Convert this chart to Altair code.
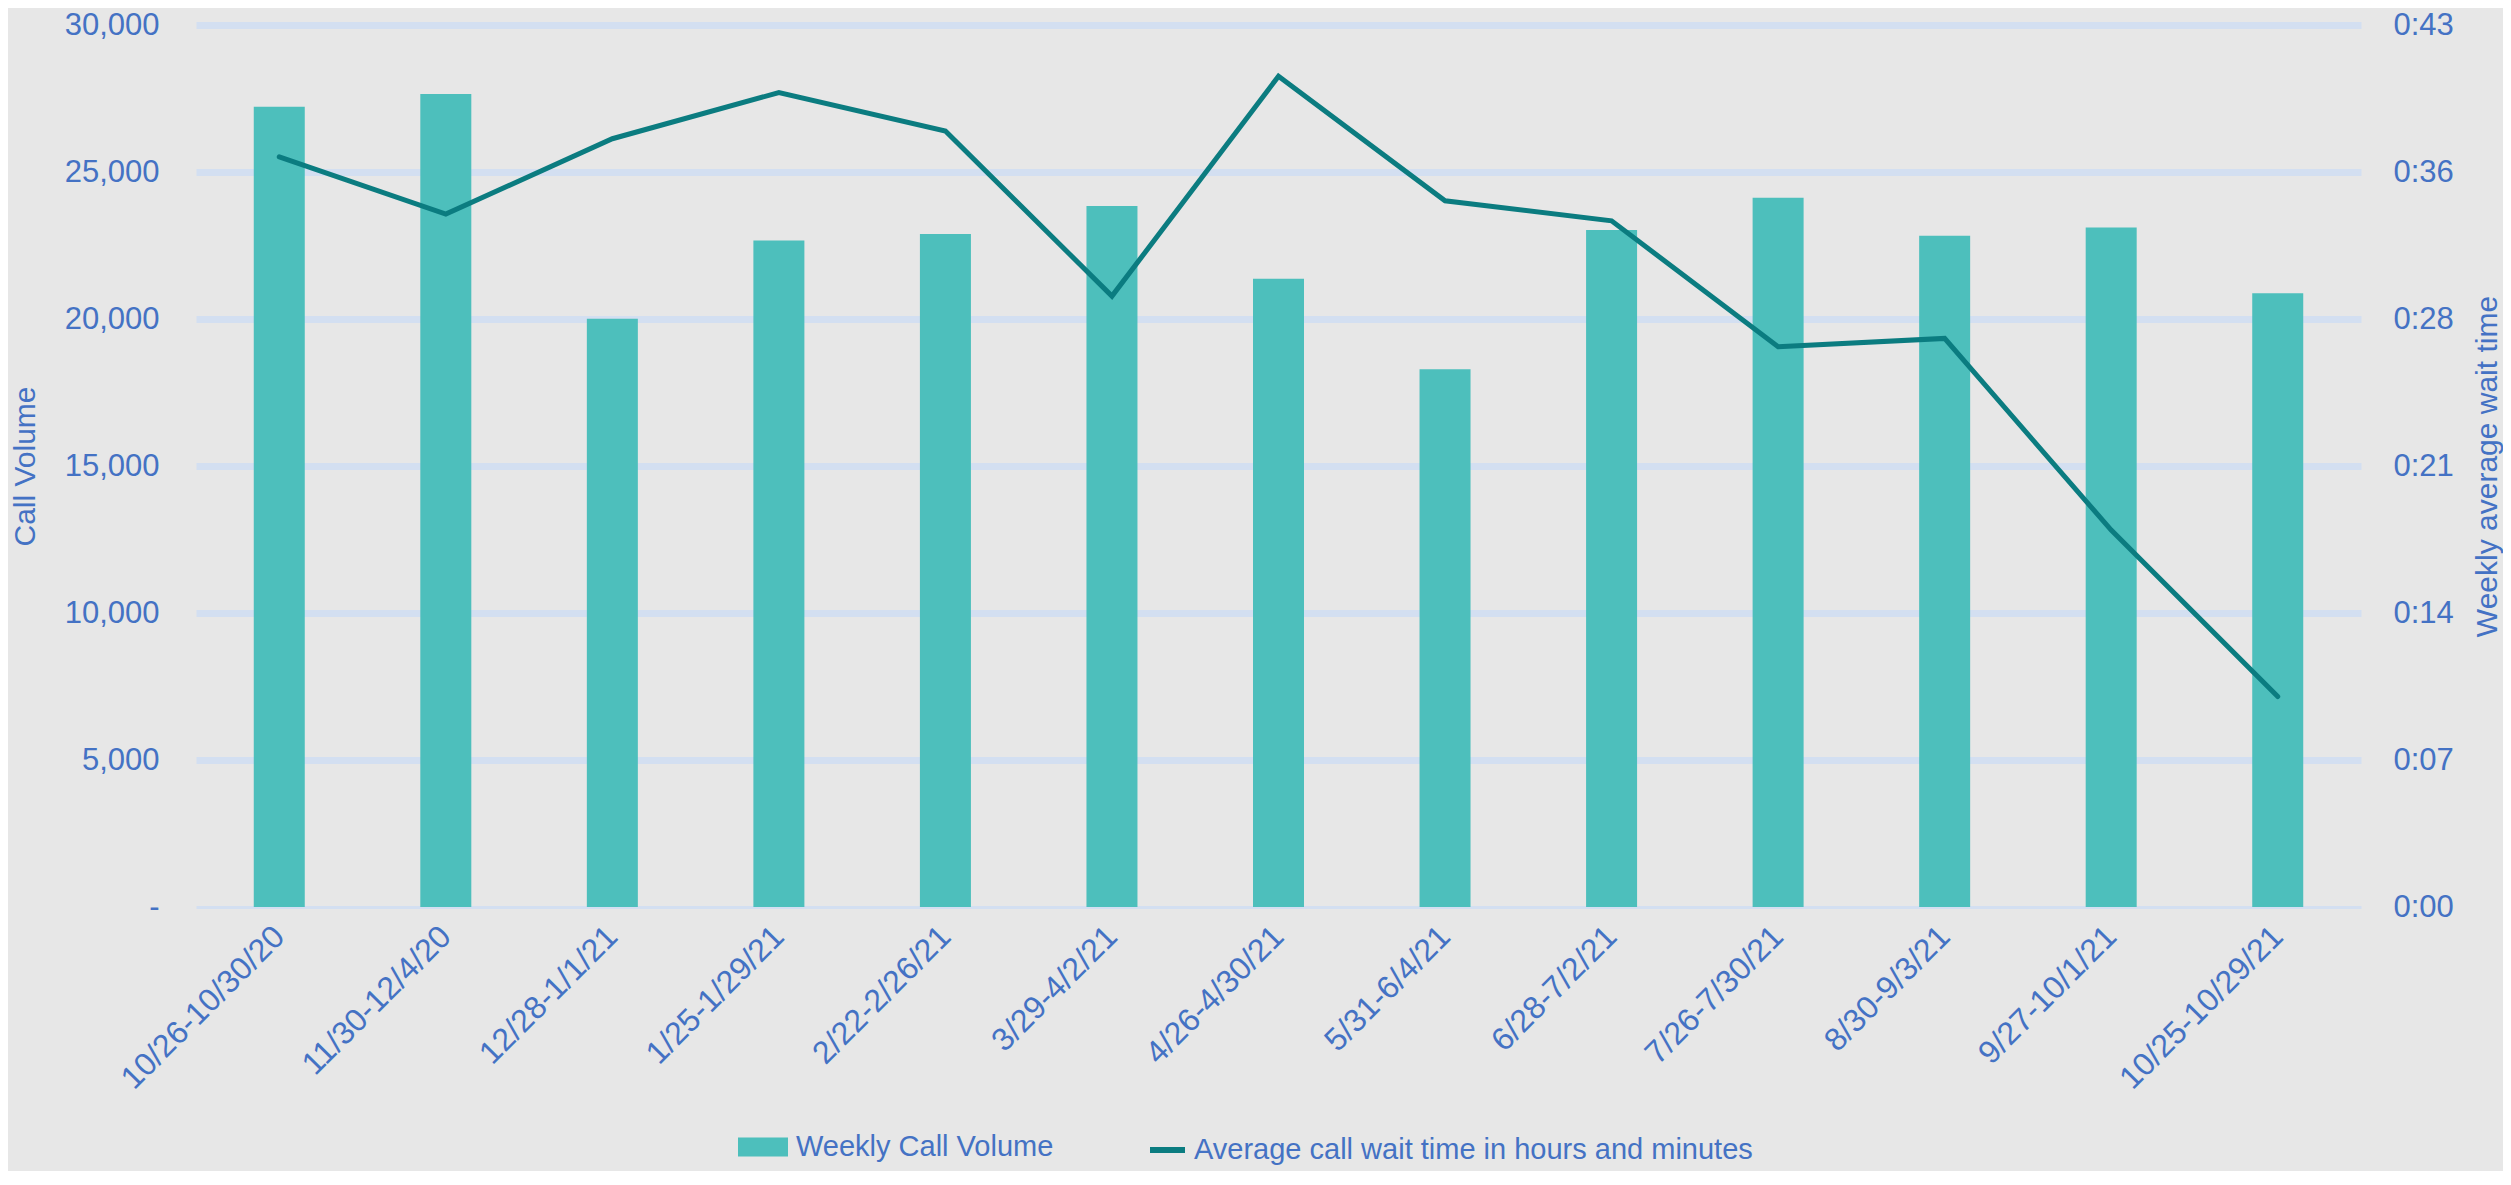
import altair as alt
import pandas as pd

# ---- data ----
weeks = ["10/26-10/30/20", "11/30-12/4/20", "12/28-1/1/21", "1/25-1/29/21",
         "2/22-2/26/21", "3/29-4/2/21", "4/26-4/30/21", "5/31-6/4/21",
         "6/28-7/2/21", "7/26-7/30/21", "8/30-9/3/21", "9/27-10/1/21",
         "10/25-10/29/21"]
call_volume = [27220, 27650, 20010, 22670, 22890, 23840, 21370, 18290,
               23030, 24120, 22830, 23110, 20880]
# average wait time, in minutes
wait_minutes = [36.74, 33.94, 37.63, 39.89, 38.01, 29.92, 40.69, 34.59,
                33.61, 27.44, 27.85, 18.46, 10.31]

left_ticks = [0, 5000, 10000, 15000, 20000, 25000, 30000]
right_ticks = [0, 7.2, 14.4, 21.6, 28.8, 36.0, 43.2]

bar_name = "Weekly Call Volume"
line_name = "Average call wait time in hours and minutes"

TEAL = "#4DBFBC"
DARK = "#0B7C80"
TEXT = "#4472C4"
GRID = "#D3DFF1"
BG = "#E7E7E7"
FONT = "Liberation Sans"

df = pd.DataFrame({
    "week": weeks,
    "calls": call_volume,
    "minutes": wait_minutes,
    "bar_series": [bar_name] * len(weeks),
    "line_series": [line_name] * len(weeks),
})

W, H = 2165, 882
TOP = 17
LEG_C = 1122  # legend row centre, relative to plot top

x = alt.X("week:N", sort=weeks, title=None,
          scale=alt.Scale(paddingInner=0, paddingOuter=0),
          axis=alt.Axis(labelAngle=315, labelAlign="right", labelBaseline="middle",
                        labelPadding=24, labelOffset=0, labelFontSize=32,
                        labelFont=FONT, labelColor=TEXT, ticks=False, tickSize=0,
                        domain=False, grid=False, labelOverlap=False, labelLimit=0))

bars = alt.Chart(df).mark_bar(size=51).encode(
    x=x,
    y=alt.Y("calls:Q",
            scale=alt.Scale(domain=[0, 30000], nice=False, zero=True),
            axis=alt.Axis(values=left_ticks,
                          labelExpr="datum.value === 0 ? '-\u00a0\u00a0' : format(datum.value, ',')",
                          labelFont=FONT, labelFontSize=31, labelColor=TEXT,
                          labelPadding=37, ticks=False, tickSize=0, domain=False,
                          grid=True, gridColor=GRID,
                          gridWidth={"condition": {"test": "datum.value === 0", "value": 3}, "value": 7},
                          title="Call Volume", titleFont=FONT, titleFontSize=30,
                          titleFontWeight="normal", titleColor=TEXT,
                          titleAngle=270, titleX=-171, titleY=H / 2,
                          titleAlign="center", titleBaseline="middle")),
    color=alt.Color("bar_series:N",
                    scale=alt.Scale(domain=[bar_name], range=[TEAL]),
                    legend=alt.Legend(title=None, orient="none", legendX=542, legendY=LEG_C - 25,
                                      symbolType="M-1,-0.38H1V0.38H-1Z", symbolSize=2500,
                                      symbolStrokeWidth=0, symbolOpacity=1,
                                      labelFont=FONT, labelFontSize=29, labelColor=TEXT,
                                      labelOffset=8, labelLimit=0)),
)

line = alt.Chart(df).mark_line(strokeWidth=5, strokeCap="round", strokeJoin="miter").encode(
    x=x,
    y=alt.Y("minutes:Q",
            scale=alt.Scale(domain=[0, 43.2], nice=False, zero=True),
            axis=alt.Axis(orient="right", values=right_ticks,
                          labelExpr="'0:' + (floor(datum.value + 0.000001) < 10 ? '0' : '') + floor(datum.value + 0.000001)",
                          labelFont=FONT, labelFontSize=31, labelColor=TEXT,
                          labelPadding=32, ticks=False, tickSize=0, domain=False,
                          grid=False,
                          title="Weekly average wait time", titleFont=FONT, titleFontSize=30,
                          titleFontWeight="normal", titleColor=TEXT,
                          titleAngle=270, titleX=126, titleY=H / 2,
                          titleAlign="center", titleBaseline="middle")),
    stroke=alt.Stroke("line_series:N",
                      scale=alt.Scale(domain=[line_name], range=[DARK]),
                      legend=alt.Legend(title=None, orient="none", legendX=951, legendY=LEG_C - 17.5,
                                        symbolType="stroke", symbolSize=1225,
                                        symbolStrokeWidth=6,
                                        labelFont=FONT, labelFontSize=29, labelColor=TEXT,
                                        labelOffset=6, labelLimit=0)),
)

chart = alt.layer(bars, line).resolve_scale(
    y="independent", color="independent", stroke="independent"
).properties(
    width=W, height=H,
    background=BG,
    padding={"left": 188, "top": TOP, "right": 142, "bottom": 264},
    autosize=alt.AutoSizeParams(type="none"),
).configure_view(stroke=None)

chart.save("out.html", embed_options={"renderer": "svg", "actions": False})
